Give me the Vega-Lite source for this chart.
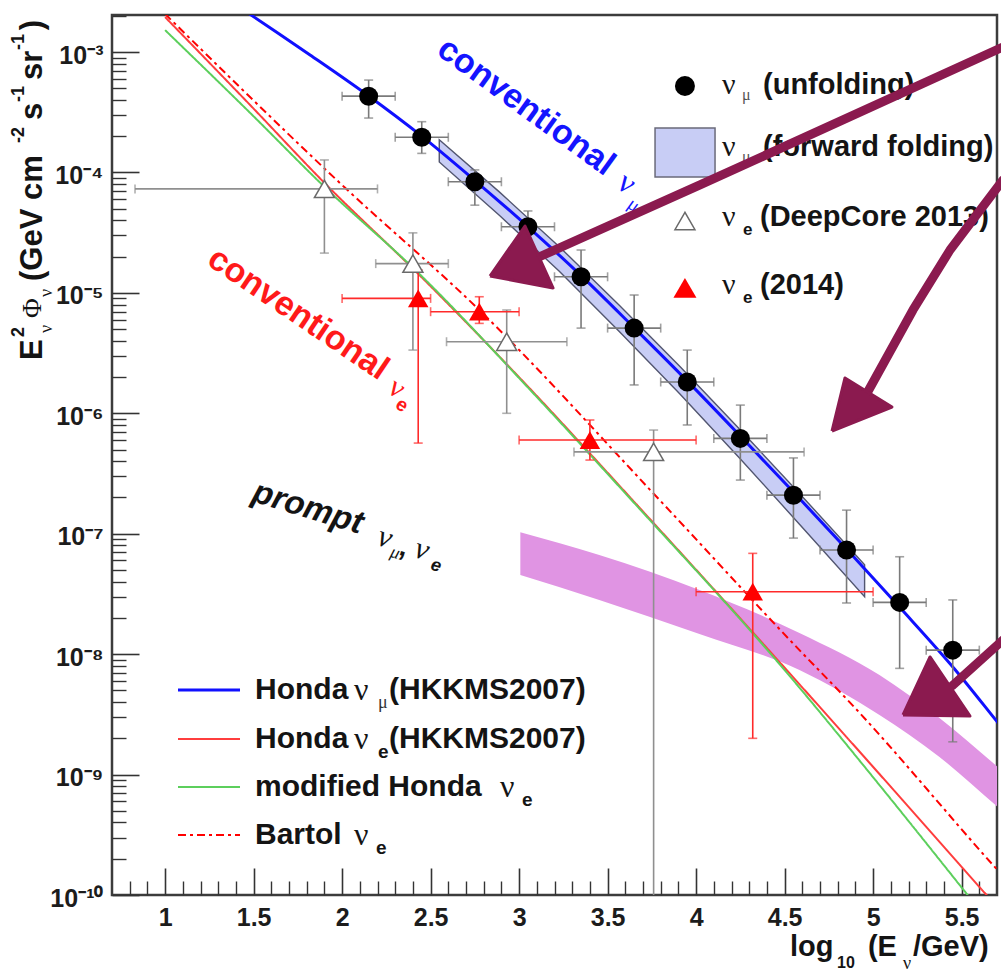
{
  "$schema": "https://vega.github.io/schema/vega-lite/v6.json",
  "width": 885,
  "height": 880,
  "autosize": "none",
  "padding": {"left": 112, "top": 15, "right": 4, "bottom": 77},
  "background": "#ffffff",
  "config": {
    "view": {"stroke": "#3c3c3c", "strokeWidth": 2.5},
    "font": "Liberation Sans"
  },
  "datasets": {
    "prompt": [
      {"x": 3.007, "hi": 1.03e-7, "lo": 4.54e-8},
      {"x": 3.453, "hi": 6.65e-8, "lo": 2.82e-8},
      {"x": 4.019, "hi": 3.41e-8, "lo": 1.47e-8},
      {"x": 4.584, "hi": 1.50e-8, "lo": 7.38e-9},
      {"x": 5.036, "hi": 6.71e-9, "lo": 3.13e-9},
      {"x": 5.375, "hi": 2.95e-9, "lo": 1.40e-9},
      {"x": 5.698, "hi": 1.18e-9, "lo": 5.48e-10},
      {"x": 5.75, "hi": 1.02e-9, "lo": 4.71e-10}
    ],
    "ffband": [
      {"x": 2.549, "hi": 1.87e-4, "lo": 1.22e-4},
      {"x": 2.888, "hi": 6.90e-5, "lo": 4.42e-5},
      {"x": 3.227, "hi": 2.42e-5, "lo": 1.51e-5},
      {"x": 3.566, "hi": 7.89e-6, "lo": 4.78e-6},
      {"x": 3.906, "hi": 2.47e-6, "lo": 1.46e-6},
      {"x": 4.245, "hi": 7.41e-7, "lo": 4.26e-7},
      {"x": 4.584, "hi": 2.16e-7, "lo": 1.20e-7},
      {"x": 4.952, "hi": 5.53e-8, "lo": 3.00e-8}
    ],
    "curves": [
      {"series": "mu", "part": "curve", "x": 1.40, "y": 2.48e-3},
      {"series": "mu", "part": "curve", "x": 1.486, "y": 2.03e-3},
      {"series": "mu", "part": "curve", "x": 1.819, "y": 9.45e-4},
      {"series": "mu", "part": "curve", "x": 2.142, "y": 4.40e-4},
      {"series": "mu", "part": "curve", "x": 2.441, "y": 2.05e-4},
      {"series": "mu", "part": "curve", "x": 2.747, "y": 8.65e-5},
      {"series": "mu", "part": "curve", "x": 3.052, "y": 3.52e-5},
      {"series": "mu", "part": "curve", "x": 3.346, "y": 1.41e-5},
      {"series": "mu", "part": "curve", "x": 3.646, "y": 5.20e-6},
      {"series": "mu", "part": "curve", "x": 3.951, "y": 1.85e-6},
      {"series": "mu", "part": "curve", "x": 4.250, "y": 6.47e-7},
      {"series": "mu", "part": "curve", "x": 4.550, "y": 2.22e-7},
      {"series": "mu", "part": "curve", "x": 4.850, "y": 7.46e-8},
      {"series": "mu", "part": "curve", "x": 5.149, "y": 2.46e-8},
      {"series": "mu", "part": "curve", "x": 5.460, "y": 7.54e-9},
      {"series": "mu", "part": "curve", "x": 5.697, "y": 2.79e-9},
      {"series": "mu", "part": "curve", "x": 5.75, "y": 2.23e-9},
      {"series": "e", "part": "curve", "x": 1.0, "y": 1.95e-3},
      {"series": "e", "part": "curve", "x": 1.475, "y": 3.70e-4},
      {"series": "e", "part": "curve", "x": 1.9, "y": 8.2e-5},
      {"series": "e", "part": "curve", "x": 2.436, "y": 1.41e-5},
      {"series": "e", "part": "curve", "x": 3.058, "y": 1.62e-6},
      {"series": "e", "part": "curve", "x": 3.640, "y": 1.91e-7},
      {"series": "e", "part": "curve", "x": 4.471, "y": 8.61e-9},
      {"series": "e", "part": "curve", "x": 5.036, "y": 1.01e-9},
      {"series": "e", "part": "curve", "x": 5.641, "y": 1.0e-10},
      {"series": "e", "part": "curve", "x": 5.771, "y": 6.1e-11},
      {"series": "emod", "part": "curve", "x": 1.0, "y": 1.52e-3},
      {"series": "emod", "part": "curve", "x": 1.475, "y": 3.18e-4},
      {"series": "emod", "part": "curve", "x": 1.9, "y": 7.6e-5},
      {"series": "emod", "part": "curve", "x": 2.436, "y": 1.44e-5},
      {"series": "emod", "part": "curve", "x": 3.058, "y": 1.59e-6},
      {"series": "emod", "part": "curve", "x": 3.640, "y": 1.87e-7},
      {"series": "emod", "part": "curve", "x": 4.471, "y": 8.28e-9},
      {"series": "emod", "part": "curve", "x": 5.036, "y": 8.18e-10},
      {"series": "emod", "part": "curve", "x": 5.534, "y": 1.0e-10},
      {"series": "emod", "part": "curve", "x": 5.658, "y": 5.9e-11},
      {"series": "bartol", "part": "curve", "x": 1.0, "y": 2.07e-3},
      {"series": "bartol", "part": "curve", "x": 2.012, "y": 7.57e-5},
      {"series": "bartol", "part": "curve", "x": 2.775, "y": 7.21e-6},
      {"series": "bartol", "part": "curve", "x": 3.793, "y": 1.91e-7},
      {"series": "bartol", "part": "curve", "x": 4.584, "y": 1.08e-8},
      {"series": "bartol", "part": "curve", "x": 4.867, "y": 4.0e-9},
      {"series": "bartol", "part": "curve", "x": 5.703, "y": 1.61e-10},
      {"series": "bartol", "part": "curve", "x": 5.75, "y": 1.35e-10},
      {"series": "mu", "part": "key", "x": 1.0729, "y": 5.04e-9},
      {"series": "mu", "part": "key", "x": 1.4232, "y": 5.04e-9},
      {"series": "e", "part": "key", "x": 1.0729, "y": 1.976e-9},
      {"series": "e", "part": "key", "x": 1.4232, "y": 1.976e-9},
      {"series": "emod", "part": "key", "x": 1.0729, "y": 7.89e-10},
      {"series": "emod", "part": "key", "x": 1.4232, "y": 7.89e-10},
      {"series": "bartol", "part": "key", "x": 1.0729, "y": 3.15e-10},
      {"series": "bartol", "part": "key", "x": 1.4232, "y": 3.15e-10}
    ],
    "pts": [
      {"set": "numu", "x": 2.15, "xlo": 2.0, "xhi": 2.3, "y": 4.3e-4, "ylo": 2.83e-4, "yhi": 5.85e-4},
      {"set": "numu", "x": 2.45, "xlo": 2.3, "xhi": 2.6, "y": 1.96e-4, "ylo": 1.44e-4, "yhi": 2.64e-4},
      {"set": "numu", "x": 2.75, "xlo": 2.6, "xhi": 2.9, "y": 8.37e-5, "ylo": 5.35e-5, "yhi": 1.05e-4},
      {"set": "numu", "x": 3.05, "xlo": 2.9, "xhi": 3.2, "y": 3.54e-5, "ylo": 2.49e-5, "yhi": 4.79e-5},
      {"set": "numu", "x": 3.35, "xlo": 3.2, "xhi": 3.5, "y": 1.36e-5, "ylo": 5.1e-6, "yhi": 2.27e-5},
      {"set": "numu", "x": 3.65, "xlo": 3.5, "xhi": 3.8, "y": 5.1e-6, "ylo": 1.72e-6, "yhi": 9.6e-6},
      {"set": "numu", "x": 3.95, "xlo": 3.8, "xhi": 4.1, "y": 1.82e-6, "ylo": 8.0e-7, "yhi": 3.35e-6},
      {"set": "numu", "x": 4.25, "xlo": 4.1, "xhi": 4.4, "y": 6.19e-7, "ylo": 2.79e-7, "yhi": 1.17e-6},
      {"set": "numu", "x": 4.55, "xlo": 4.4, "xhi": 4.7, "y": 2.09e-7, "ylo": 9.2e-8, "yhi": 4.26e-7},
      {"set": "numu", "x": 4.85, "xlo": 4.7, "xhi": 5.0, "y": 7.33e-8, "ylo": 2.66e-8, "yhi": 1.57e-7},
      {"set": "numu", "x": 5.15, "xlo": 5.0, "xhi": 5.3, "y": 2.69e-8, "ylo": 7.62e-9, "yhi": 6.44e-8},
      {"set": "numu", "x": 5.45, "xlo": 5.3, "xhi": 5.6, "y": 1.08e-8, "ylo": 1.87e-9, "yhi": 2.82e-8},
      {"set": "dc", "x": 1.9, "xlo": 0.83, "xhi": 2.2, "y": 7.3e-5, "ylo": 2.14e-5, "yhi": 1.27e-4},
      {"set": "dc", "x": 2.4, "xlo": 2.19, "xhi": 2.6, "y": 1.75e-5, "ylo": 3.35e-6, "yhi": 3.15e-5},
      {"set": "dc", "x": 2.93, "xlo": 2.59, "xhi": 3.27, "y": 3.93e-6, "ylo": 1.0e-6, "yhi": 7.21e-6},
      {"set": "dc", "x": 3.76, "xlo": 3.31, "xhi": 4.61, "y": 4.78e-7, "ylo": 1.0e-11, "yhi": 7.26e-7},
      {"set": "nue14", "x": 2.43, "xlo": 2.0, "xhi": 2.5, "y": 9.0e-6, "ylo": 5.66e-7, "yhi": 1.55e-5},
      {"set": "nue14", "x": 2.775, "xlo": 2.5, "xhi": 3.0, "y": 6.98e-6, "ylo": 5.58e-6, "yhi": 9.29e-6},
      {"set": "nue14", "x": 3.4, "xlo": 3.0, "xhi": 4.0, "y": 6.0e-7, "ylo": 4.09e-7, "yhi": 8.8e-7},
      {"set": "nue14", "x": 4.32, "xlo": 4.0, "xhi": 5.0, "y": 3.30e-8, "ylo": 2.0e-9, "yhi": 6.87e-8}
    ],
    "txt": [
      {"g": "leg1", "x": 4.378, "y": 5.32e-4, "text": "(unfolding)"},
      {"g": "leg1", "x": 4.378, "y": 1.63e-4, "text": "(forward folding)"},
      {"g": "leg1", "x": 4.361, "y": 4.27e-5, "text": "(DeepCore 2013)"},
      {"g": "leg1", "x": 4.361, "y": 1.16e-5, "text": "(2014)"},
      {"g": "leg1nu", "x": 4.146, "y": 5.32e-4, "text": "ν"},
      {"g": "leg1nu", "x": 4.146, "y": 1.63e-4, "text": "ν"},
      {"g": "leg1nu", "x": 4.146, "y": 4.27e-5, "text": "ν"},
      {"g": "leg1nu", "x": 4.146, "y": 1.16e-5, "text": "ν"},
      {"g": "leg1mu", "x": 4.259, "y": 4.40e-4, "text": "μ"},
      {"g": "leg1mu", "x": 4.259, "y": 1.34e-4, "text": "μ"},
      {"g": "leg1e", "x": 4.265, "y": 3.33e-5, "text": "e"},
      {"g": "leg1e", "x": 4.265, "y": 9.07e-6, "text": "e"},
      {"g": "leg2", "x": 1.5079, "y": 5.04e-9, "text": "Honda"},
      {"g": "leg2", "x": 2.265, "y": 5.04e-9, "text": "(HKKMS2007)"},
      {"g": "leg2", "x": 1.5079, "y": 1.976e-9, "text": "Honda"},
      {"g": "leg2", "x": 2.265, "y": 1.976e-9, "text": "(HKKMS2007)"},
      {"g": "leg2", "x": 1.5079, "y": 7.89e-10, "text": "modified Honda"},
      {"g": "leg2", "x": 1.5079, "y": 3.15e-10, "text": "Bartol"},
      {"g": "leg2nu", "x": 2.0672, "y": 5.04e-9, "text": "ν"},
      {"g": "leg2nu", "x": 2.0672, "y": 1.976e-9, "text": "ν"},
      {"g": "leg2nu", "x": 2.892, "y": 7.89e-10, "text": "ν"},
      {"g": "leg2nu", "x": 2.0672, "y": 3.15e-10, "text": "ν"},
      {"g": "leg2mu", "x": 2.2028, "y": 3.93e-9, "text": "μ"},
      {"g": "leg2e", "x": 2.2028, "y": 1.54e-9, "text": "e"},
      {"g": "leg2e", "x": 3.0164, "y": 6.15e-10, "text": "e"},
      {"g": "leg2e", "x": 2.1915, "y": 2.457e-10, "text": "e"},
      {"g": "cb", "x": 3.039, "y": 3.50e-4, "text": "conventional"},
      {"g": "cbnu", "x": 3.6096, "y": 8.18e-5, "text": "ν"},
      {"g": "cbmu", "x": 3.649, "y": 5.37e-5, "text": "μ"},
      {"g": "cr", "x": 1.7508, "y": 6.68e-6, "text": "conventional"},
      {"g": "crnu", "x": 2.3102, "y": 1.62e-6, "text": "ν"},
      {"g": "cre", "x": 2.3384, "y": 1.17e-6, "text": "e"},
      {"g": "pr", "x": 1.8073, "y": 1.64e-7, "text": "prompt"},
      {"g": "prnu", "x": 2.2424, "y": 9.22e-8, "text": "ν"},
      {"g": "prnu", "x": 2.4514, "y": 7.33e-8, "text": "ν"},
      {"g": "prc", "x": 2.3497, "y": 7.61e-8, "text": ","},
      {"g": "prmu", "x": 2.2989, "y": 6.92e-8, "text": "μ"},
      {"g": "pre", "x": 2.5305, "y": 5.40e-8, "text": "e"},
      {"g": "xt", "x": 4.5305, "y": 3.71e-11, "text": "log"},
      {"g": "xt", "x": 4.971, "y": 3.71e-11, "text": "(E"},
      {"g": "xt", "x": 5.2254, "y": 3.71e-11, "text": "/GeV)"},
      {"g": "xtsub", "x": 4.796, "y": 2.73e-11, "text": "10"},
      {"g": "xtnu", "x": 5.169, "y": 2.67e-11, "text": "ν"},
      {"g": "yt", "x": 0.2537, "y": 2.77e-6, "text": "E"},
      {"g": "yt", "x": 0.2537, "y": 1.256e-5, "text": "(GeV cm"},
      {"g": "yt", "x": 0.2537, "y": 2.73e-4, "text": "s"},
      {"g": "yt", "x": 0.2537, "y": 5.86e-4, "text": "sr"},
      {"g": "yt", "x": 0.2537, "y": 1.52e-3, "text": ")"},
      {"g": "ytsup", "x": 0.1746, "y": 4.30e-6, "text": "2"},
      {"g": "ytsup", "x": 0.1746, "y": 1.757e-4, "text": "-2"},
      {"g": "ytsup", "x": 0.1746, "y": 3.85e-4, "text": "-1"},
      {"g": "ytsup", "x": 0.1746, "y": 1.04e-3, "text": "-1"},
      {"g": "ytphi", "x": 0.2537, "y": 6.19e-6, "text": "Φ"},
      {"g": "ytnu", "x": 0.3328, "y": 4.65e-6, "text": "ν"},
      {"g": "ytnu", "x": 0.3328, "y": 9.24e-6, "text": "ν"}
    ],
    "arrows": [
      {"id": 1, "part": "shaft", "o": 0, "x": 3.1124, "y": 1.986e-5},
      {"id": 1, "part": "shaft", "o": 1, "x": 4.0220, "y": 7.87e-5},
      {"id": 1, "part": "shaft", "o": 2, "x": 5.7339, "y": 1.101e-3},
      {"id": 1, "part": "head", "o": 0, "x": 2.8356, "y": 1.381e-5},
      {"id": 1, "part": "head", "o": 1, "x": 3.0333, "y": 3.59e-5},
      {"id": 1, "part": "head", "o": 2, "x": 3.1915, "y": 1.098e-5},
      {"id": 1, "part": "head", "o": 3, "x": 2.8356, "y": 1.381e-5},
      {"id": 2, "part": "shaft", "o": 0, "x": 4.9599, "y": 1.419e-6},
      {"id": 2, "part": "shaft", "o": 1, "x": 5.2254, "y": 7.21e-6},
      {"id": 2, "part": "shaft", "o": 2, "x": 5.4345, "y": 2.27e-5},
      {"id": 2, "part": "shaft", "o": 3, "x": 5.7339, "y": 8.66e-5},
      {"id": 2, "part": "head", "o": 0, "x": 4.7678, "y": 7.13e-7},
      {"id": 2, "part": "head", "o": 1, "x": 4.8412, "y": 1.965e-6},
      {"id": 2, "part": "head", "o": 2, "x": 5.1068, "y": 1.128e-6},
      {"id": 2, "part": "head", "o": 3, "x": 4.7678, "y": 7.13e-7},
      {"id": 3, "part": "shaft", "o": 0, "x": 5.4458, "y": 5.44e-9},
      {"id": 3, "part": "shaft", "o": 1, "x": 5.7339, "y": 1.311e-8},
      {"id": 3, "part": "head", "o": 0, "x": 5.1689, "y": 3.125e-9},
      {"id": 3, "part": "head", "o": 1, "x": 5.3215, "y": 9.48e-9},
      {"id": 3, "part": "head", "o": 2, "x": 5.5475, "y": 3.066e-9},
      {"id": 3, "part": "head", "o": 3, "x": 5.1689, "y": 3.125e-9}
    ]
  },
  "layer": [
    {
      "data": {"name": "prompt"},
      "mark": {"type": "area", "color": "#e094e3", "interpolate": "monotone", "clip": true},
      "encoding": {
        "x": {
          "field": "x", "type": "quantitative",
          "scale": {"domain": [0.7, 5.7], "nice": false, "zero": false},
          "axis": {
            "orient": "bottom", "title": null, "labels": false, "domain": false, "grid": false,
            "tickSize": -14, "tickWidth": 1.4, "tickColor": "#333333",
            "values": [0.8, 0.9, 1.1, 1.2, 1.3, 1.4, 1.6, 1.7, 1.8, 1.9, 2.1, 2.2, 2.3, 2.4, 2.6, 2.7, 2.8, 2.9, 3.1, 3.2, 3.3, 3.4, 3.6, 3.7, 3.8, 3.9, 4.1, 4.2, 4.3, 4.4, 4.6, 4.7, 4.8, 4.9, 5.1, 5.2, 5.3, 5.4, 5.6]
          }
        },
        "y": {
          "field": "hi", "type": "quantitative",
          "scale": {"type": "log", "domain": [1e-10, 0.00203], "nice": false},
          "axis": {
            "orient": "left", "title": null, "labels": false, "domain": false, "grid": false,
            "tickSize": -14, "tickWidth": 1.4, "tickColor": "#333333",
            "values": [2e-10, 3e-10, 4e-10, 5e-10, 6e-10, 7e-10, 8e-10, 9e-10, 2e-9, 3e-9, 4e-9, 5e-9, 6e-9, 7e-9, 8e-9, 9e-9, 2e-8, 3e-8, 4e-8, 5e-8, 6e-8, 7e-8, 8e-8, 9e-8, 2e-7, 3e-7, 4e-7, 5e-7, 6e-7, 7e-7, 8e-7, 9e-7, 2e-6, 3e-6, 4e-6, 5e-6, 6e-6, 7e-6, 8e-6, 9e-6, 2e-5, 3e-5, 4e-5, 5e-5, 6e-5, 7e-5, 8e-5, 9e-5, 2e-4, 3e-4, 4e-4, 5e-4, 6e-4, 7e-4, 8e-4, 9e-4, 2e-3]
          }
        },
        "y2": {"field": "lo"}
      }
    },
    {
      "data": {"name": "curves"},
      "transform": [{"filter": "datum.series !== 'mu'"}],
      "mark": {"type": "line", "interpolate": "monotone", "strokeWidth": 2, "clip": true},
      "encoding": {
        "x": {
          "field": "x", "type": "quantitative",
          "scale": {"domain": [0.7, 5.7], "nice": false, "zero": false},
          "axis": {
            "orient": "bottom", "title": null, "domain": false, "grid": false,
            "values": [1, 1.5, 2, 2.5, 3, 3.5, 4, 4.5, 5, 5.5], "format": "~g",
            "tickSize": -27, "tickWidth": 1.6, "tickColor": "#333333",
            "labelFont": "Liberation Sans", "labelFontWeight": "bold", "labelFontSize": 25, "labelColor": "#1c1c1c",
            "labelPadding": 37, "labelFlush": false, "labelOverlap": false, "labelBound": false
          }
        },
        "y": {
          "field": "y", "type": "quantitative",
          "scale": {"type": "log", "domain": [1e-10, 0.00203], "nice": false},
          "axis": {
            "orient": "left", "title": null, "domain": false, "grid": false,
            "values": [1e-10, 1e-9, 1e-8, 1e-7, 1e-6, 1e-5, 1e-4, 1e-3],
            "labelExpr": "'10' + replace(replace(replace(replace(replace(replace(replace(replace(replace(replace(replace('' + round(log(datum.value) / LN10), '-', '⁻'), '1', '¹'), '0', '⁰'), '2', '²'), '3', '³'), '4', '⁴'), '5', '⁵'), '6', '⁶'), '7', '⁷'), '8', '⁸'), '9', '⁹')",
            "tickSize": -27, "tickWidth": 1.6, "tickColor": "#333333",
            "labelFont": "Liberation Sans", "labelFontWeight": "bold", "labelFontSize": 25, "labelColor": "#1c1c1c",
            "labelPadding": 36, "labelOffset": 3, "labelBaseline": "middle",
            "labelFlush": false, "labelOverlap": false, "labelBound": false
          }
        },
        "detail": {"field": "part"},
        "stroke": {
          "field": "series", "type": "nominal", "legend": null,
          "scale": {"domain": ["e", "emod", "bartol"], "range": ["#ff3d3d", "#5ccf5c", "#ff0000"]}
        },
        "strokeDash": {
          "field": "series", "type": "nominal", "legend": null,
          "scale": {"domain": ["e", "emod", "bartol"], "range": [[1, 0], [1, 0], [8, 4, 3, 4]]}
        },
        "strokeWidth": {
          "field": "series", "type": "nominal", "legend": null,
          "scale": {"domain": ["e", "emod", "bartol"], "range": [2, 2, 2.6]}
        }
      }
    },
    {
      "data": {"name": "ffband"},
      "mark": {"type": "area", "fill": "#c8cdf5", "stroke": "#525670", "strokeWidth": 1.4, "clip": true},
      "encoding": {
        "x": {"field": "x", "type": "quantitative", "axis": null},
        "y": {"field": "hi", "type": "quantitative", "axis": null},
        "y2": {"field": "lo"}
      }
    },
    {
      "data": {"name": "curves"},
      "transform": [{"filter": "datum.series === 'mu'"}],
      "mark": {"type": "line", "interpolate": "monotone", "stroke": "#1010ff", "strokeWidth": 3, "clip": true},
      "encoding": {
        "x": {"field": "x", "type": "quantitative", "axis": null},
        "y": {"field": "y", "type": "quantitative", "axis": null},
        "detail": {"field": "part"}
      }
    },
    {
      "data": {"name": "pts"},
      "mark": {"type": "rule", "strokeWidth": 1.6, "clip": true},
      "encoding": {
        "x": {"field": "x", "type": "quantitative", "axis": null},
        "y": {"field": "ylo", "type": "quantitative", "axis": null},
        "y2": {"field": "yhi"},
        "color": {"field": "set", "type": "nominal", "legend": null,
          "scale": {"domain": ["numu", "dc", "nue14"], "range": ["#7a7a7a", "#8f8f8f", "#ff2a2a"]}}
      }
    },
    {
      "data": {"name": "pts"},
      "mark": {"type": "rule", "strokeWidth": 1.6, "clip": true},
      "encoding": {
        "x": {"field": "xlo", "type": "quantitative", "axis": null},
        "x2": {"field": "xhi"},
        "y": {"field": "y", "type": "quantitative", "axis": null},
        "color": {"field": "set", "type": "nominal", "legend": null,
          "scale": {"domain": ["numu", "dc", "nue14"], "range": ["#7a7a7a", "#8f8f8f", "#ff2a2a"]}}
      }
    },
    {
      "data": {"name": "pts"},
      "transform": [{"fold": ["ylo", "yhi"], "as": ["k", "yc"]}],
      "mark": {"type": "tick", "orient": "horizontal", "size": 9, "thickness": 1.6, "clip": true},
      "encoding": {
        "x": {"field": "x", "type": "quantitative", "axis": null},
        "y": {"field": "yc", "type": "quantitative", "axis": null},
        "color": {"field": "set", "type": "nominal", "legend": null,
          "scale": {"domain": ["numu", "dc", "nue14"], "range": ["#7a7a7a", "#8f8f8f", "#ff2a2a"]}}
      }
    },
    {
      "data": {"name": "pts"},
      "transform": [{"fold": ["xlo", "xhi"], "as": ["k", "xc"]}],
      "mark": {"type": "tick", "orient": "vertical", "size": 9, "thickness": 1.6, "clip": true},
      "encoding": {
        "x": {"field": "xc", "type": "quantitative", "axis": null},
        "y": {"field": "y", "type": "quantitative", "axis": null},
        "color": {"field": "set", "type": "nominal", "legend": null,
          "scale": {"domain": ["numu", "dc", "nue14"], "range": ["#7a7a7a", "#8f8f8f", "#ff2a2a"]}}
      }
    },
    {
      "data": {"name": "pts"},
      "transform": [{"filter": "datum.set === 'numu'"}],
      "mark": {"type": "point", "shape": "circle", "filled": true, "fill": "#000000", "size": 361, "opacity": 1},
      "encoding": {
        "x": {"field": "x", "type": "quantitative", "axis": null},
        "y": {"field": "y", "type": "quantitative", "axis": null}
      }
    },
    {
      "data": {"name": "pts"},
      "transform": [{"filter": "datum.set === 'dc'"}],
      "mark": {"type": "point", "shape": "triangle-up", "filled": false, "fill": "#ffffff", "stroke": "#6a6a6a", "strokeWidth": 1.5, "size": 400, "opacity": 1},
      "encoding": {
        "x": {"field": "x", "type": "quantitative", "axis": null},
        "y": {"field": "y", "type": "quantitative", "axis": null}
      }
    },
    {
      "data": {"name": "pts"},
      "transform": [{"filter": "datum.set === 'nue14'"}],
      "mark": {"type": "point", "shape": "triangle-up", "filled": true, "fill": "#ff0000", "size": 420, "opacity": 1},
      "encoding": {
        "x": {"field": "x", "type": "quantitative", "axis": null},
        "y": {"field": "y", "type": "quantitative", "axis": null}
      }
    },
    {
      "data": {"values": [{"x": 3.768, "x2": 4.107, "y": 2.34e-4, "y2": 9.17e-5}]},
      "mark": {"type": "rect", "fill": "#c8cdf5", "stroke": "#6a6a7a", "strokeWidth": 1.5},
      "encoding": {
        "x": {"field": "x", "type": "quantitative", "axis": null},
        "x2": {"field": "x2"},
        "y": {"field": "y", "type": "quantitative", "axis": null},
        "y2": {"field": "y2"}
      }
    },
    {
      "data": {"values": [{"x": 3.937, "y": 5.22e-4}]},
      "mark": {"type": "point", "shape": "circle", "filled": true, "fill": "#000000", "size": 400, "opacity": 1},
      "encoding": {
        "x": {"field": "x", "type": "quantitative", "axis": null},
        "y": {"field": "y", "type": "quantitative", "axis": null}
      }
    },
    {
      "data": {"values": [{"x": 3.937, "y": 3.95e-5}]},
      "mark": {"type": "point", "shape": "triangle-up", "filled": false, "fill": "#ffffff", "stroke": "#6a6a6a", "strokeWidth": 1.5, "size": 400, "opacity": 1},
      "encoding": {
        "x": {"field": "x", "type": "quantitative", "axis": null},
        "y": {"field": "y", "type": "quantitative", "axis": null}
      }
    },
    {
      "data": {"values": [{"x": 3.937, "y": 1.10e-5}]},
      "mark": {"type": "point", "shape": "triangle-up", "filled": true, "fill": "#ff0000", "size": 529, "opacity": 1},
      "encoding": {
        "x": {"field": "x", "type": "quantitative", "axis": null},
        "y": {"field": "y", "type": "quantitative", "axis": null}
      }
    },
    {
      "data": {"name": "txt"},
      "transform": [{"filter": "datum.g === 'leg1'"}],
      "mark": {"type": "text", "font": "Liberation Sans", "fontWeight": "bold", "fontSize": 29, "align": "left", "baseline": "middle", "color": "#141414"},
      "encoding": {
        "x": {"field": "x", "type": "quantitative", "axis": null},
        "y": {"field": "y", "type": "quantitative", "axis": null},
        "text": {"field": "text"}
      }
    },
    {
      "data": {"name": "txt"},
      "transform": [{"filter": "datum.g === 'leg1nu'"}],
      "mark": {"type": "text", "font": "Liberation Serif", "fontSize": 30, "align": "left", "baseline": "middle", "color": "#141414"},
      "encoding": {
        "x": {"field": "x", "type": "quantitative", "axis": null},
        "y": {"field": "y", "type": "quantitative", "axis": null},
        "text": {"field": "text"}
      }
    },
    {
      "data": {"name": "txt"},
      "transform": [{"filter": "datum.g === 'leg1mu'"}],
      "mark": {"type": "text", "font": "Liberation Serif", "fontSize": 16, "align": "left", "baseline": "middle", "color": "#555555"},
      "encoding": {
        "x": {"field": "x", "type": "quantitative", "axis": null},
        "y": {"field": "y", "type": "quantitative", "axis": null},
        "text": {"field": "text"}
      }
    },
    {
      "data": {"name": "txt"},
      "transform": [{"filter": "datum.g === 'leg1e'"}],
      "mark": {"type": "text", "font": "Liberation Sans", "fontWeight": "bold", "fontSize": 17, "align": "left", "baseline": "middle", "color": "#141414"},
      "encoding": {
        "x": {"field": "x", "type": "quantitative", "axis": null},
        "y": {"field": "y", "type": "quantitative", "axis": null},
        "text": {"field": "text"}
      }
    },
    {
      "data": {"name": "txt"},
      "transform": [{"filter": "datum.g === 'leg2'"}],
      "mark": {"type": "text", "font": "Liberation Sans", "fontWeight": "bold", "fontSize": 30, "align": "left", "baseline": "middle", "color": "#141414"},
      "encoding": {
        "x": {"field": "x", "type": "quantitative", "axis": null},
        "y": {"field": "y", "type": "quantitative", "axis": null},
        "text": {"field": "text"}
      }
    },
    {
      "data": {"name": "txt"},
      "transform": [{"filter": "datum.g === 'leg2nu'"}],
      "mark": {"type": "text", "font": "Liberation Serif", "fontSize": 32, "align": "left", "baseline": "middle", "color": "#141414"},
      "encoding": {
        "x": {"field": "x", "type": "quantitative", "axis": null},
        "y": {"field": "y", "type": "quantitative", "axis": null},
        "text": {"field": "text"}
      }
    },
    {
      "data": {"name": "txt"},
      "transform": [{"filter": "datum.g === 'leg2mu'"}],
      "mark": {"type": "text", "font": "Liberation Serif", "fontSize": 18, "align": "left", "baseline": "middle", "color": "#333333"},
      "encoding": {
        "x": {"field": "x", "type": "quantitative", "axis": null},
        "y": {"field": "y", "type": "quantitative", "axis": null},
        "text": {"field": "text"}
      }
    },
    {
      "data": {"name": "txt"},
      "transform": [{"filter": "datum.g === 'leg2e'"}],
      "mark": {"type": "text", "font": "Liberation Sans", "fontWeight": "bold", "fontSize": 19, "align": "left", "baseline": "middle", "color": "#141414"},
      "encoding": {
        "x": {"field": "x", "type": "quantitative", "axis": null},
        "y": {"field": "y", "type": "quantitative", "axis": null},
        "text": {"field": "text"}
      }
    },
    {
      "data": {"name": "txt"},
      "transform": [{"filter": "datum.g === 'cb'"}],
      "mark": {"type": "text", "font": "Liberation Sans", "fontWeight": "bold", "fontSize": 34, "align": "center", "baseline": "middle", "angle": 36, "color": "#1414ff"},
      "encoding": {
        "x": {"field": "x", "type": "quantitative", "axis": null},
        "y": {"field": "y", "type": "quantitative", "axis": null},
        "text": {"field": "text"}
      }
    },
    {
      "data": {"name": "txt"},
      "transform": [{"filter": "datum.g === 'cbnu'"}],
      "mark": {"type": "text", "font": "Liberation Serif", "fontSize": 32, "align": "center", "baseline": "middle", "angle": 36, "color": "#1414ff"},
      "encoding": {
        "x": {"field": "x", "type": "quantitative", "axis": null},
        "y": {"field": "y", "type": "quantitative", "axis": null},
        "text": {"field": "text"}
      }
    },
    {
      "data": {"name": "txt"},
      "transform": [{"filter": "datum.g === 'cbmu'"}],
      "mark": {"type": "text", "font": "Liberation Serif", "fontSize": 19, "align": "center", "baseline": "middle", "angle": 36, "color": "#1414ff"},
      "encoding": {
        "x": {"field": "x", "type": "quantitative", "axis": null},
        "y": {"field": "y", "type": "quantitative", "axis": null},
        "text": {"field": "text"}
      }
    },
    {
      "data": {"name": "txt"},
      "transform": [{"filter": "datum.g === 'cr'"}],
      "mark": {"type": "text", "font": "Liberation Sans", "fontWeight": "bold", "fontSize": 34, "align": "center", "baseline": "middle", "angle": 34, "color": "#ff1a1a"},
      "encoding": {
        "x": {"field": "x", "type": "quantitative", "axis": null},
        "y": {"field": "y", "type": "quantitative", "axis": null},
        "text": {"field": "text"}
      }
    },
    {
      "data": {"name": "txt"},
      "transform": [{"filter": "datum.g === 'crnu'"}],
      "mark": {"type": "text", "font": "Liberation Serif", "fontSize": 30, "align": "center", "baseline": "middle", "angle": 34, "color": "#ff1a1a"},
      "encoding": {
        "x": {"field": "x", "type": "quantitative", "axis": null},
        "y": {"field": "y", "type": "quantitative", "axis": null},
        "text": {"field": "text"}
      }
    },
    {
      "data": {"name": "txt"},
      "transform": [{"filter": "datum.g === 'cre'"}],
      "mark": {"type": "text", "font": "Liberation Sans", "fontWeight": "bold", "fontSize": 19, "align": "center", "baseline": "middle", "angle": 34, "color": "#ff1a1a"},
      "encoding": {
        "x": {"field": "x", "type": "quantitative", "axis": null},
        "y": {"field": "y", "type": "quantitative", "axis": null},
        "text": {"field": "text"}
      }
    },
    {
      "data": {"name": "txt"},
      "transform": [{"filter": "datum.g === 'pr'"}],
      "mark": {"type": "text", "font": "Liberation Sans", "fontWeight": "bold", "fontStyle": "italic", "fontSize": 33, "align": "center", "baseline": "middle", "angle": 17, "color": "#141414"},
      "encoding": {
        "x": {"field": "x", "type": "quantitative", "axis": null},
        "y": {"field": "y", "type": "quantitative", "axis": null},
        "text": {"field": "text"}
      }
    },
    {
      "data": {"name": "txt"},
      "transform": [{"filter": "datum.g === 'prnu'"}],
      "mark": {"type": "text", "font": "Liberation Serif", "fontStyle": "italic", "fontSize": 31, "align": "center", "baseline": "middle", "angle": 17, "color": "#141414"},
      "encoding": {
        "x": {"field": "x", "type": "quantitative", "axis": null},
        "y": {"field": "y", "type": "quantitative", "axis": null},
        "text": {"field": "text"}
      }
    },
    {
      "data": {"name": "txt"},
      "transform": [{"filter": "datum.g === 'prc'"}],
      "mark": {"type": "text", "font": "Liberation Sans", "fontWeight": "bold", "fontSize": 28, "align": "center", "baseline": "middle", "angle": 17, "color": "#141414"},
      "encoding": {
        "x": {"field": "x", "type": "quantitative", "axis": null},
        "y": {"field": "y", "type": "quantitative", "axis": null},
        "text": {"field": "text"}
      }
    },
    {
      "data": {"name": "txt"},
      "transform": [{"filter": "datum.g === 'prmu'"}],
      "mark": {"type": "text", "font": "Liberation Serif", "fontStyle": "italic", "fontSize": 18, "align": "center", "baseline": "middle", "angle": 17, "color": "#141414"},
      "encoding": {
        "x": {"field": "x", "type": "quantitative", "axis": null},
        "y": {"field": "y", "type": "quantitative", "axis": null},
        "text": {"field": "text"}
      }
    },
    {
      "data": {"name": "txt"},
      "transform": [{"filter": "datum.g === 'pre'"}],
      "mark": {"type": "text", "font": "Liberation Sans", "fontWeight": "bold", "fontStyle": "italic", "fontSize": 18, "align": "center", "baseline": "middle", "angle": 17, "color": "#141414"},
      "encoding": {
        "x": {"field": "x", "type": "quantitative", "axis": null},
        "y": {"field": "y", "type": "quantitative", "axis": null},
        "text": {"field": "text"}
      }
    },
    {
      "data": {"name": "txt"},
      "transform": [{"filter": "datum.g === 'xt'"}],
      "mark": {"type": "text", "font": "Liberation Sans", "fontWeight": "bold", "fontSize": 29, "align": "left", "baseline": "middle", "color": "#141414"},
      "encoding": {
        "x": {"field": "x", "type": "quantitative", "axis": null},
        "y": {"field": "y", "type": "quantitative", "axis": null},
        "text": {"field": "text"}
      }
    },
    {
      "data": {"name": "txt"},
      "transform": [{"filter": "datum.g === 'xtsub'"}],
      "mark": {"type": "text", "font": "Liberation Sans", "fontWeight": "bold", "fontSize": 16, "align": "left", "baseline": "middle", "color": "#141414"},
      "encoding": {
        "x": {"field": "x", "type": "quantitative", "axis": null},
        "y": {"field": "y", "type": "quantitative", "axis": null},
        "text": {"field": "text"}
      }
    },
    {
      "data": {"name": "txt"},
      "transform": [{"filter": "datum.g === 'xtnu'"}],
      "mark": {"type": "text", "font": "Liberation Serif", "fontSize": 18, "align": "left", "baseline": "middle", "color": "#141414"},
      "encoding": {
        "x": {"field": "x", "type": "quantitative", "axis": null},
        "y": {"field": "y", "type": "quantitative", "axis": null},
        "text": {"field": "text"}
      }
    },
    {
      "data": {"name": "txt"},
      "transform": [{"filter": "datum.g === 'yt'"}],
      "mark": {"type": "text", "font": "Liberation Sans", "fontWeight": "bold", "fontSize": 31, "align": "left", "baseline": "middle", "angle": 270, "color": "#141414"},
      "encoding": {
        "x": {"field": "x", "type": "quantitative", "axis": null},
        "y": {"field": "y", "type": "quantitative", "axis": null},
        "text": {"field": "text"}
      }
    },
    {
      "data": {"name": "txt"},
      "transform": [{"filter": "datum.g === 'ytsup'"}],
      "mark": {"type": "text", "font": "Liberation Sans", "fontWeight": "bold", "fontSize": 18, "align": "left", "baseline": "middle", "angle": 270, "color": "#141414"},
      "encoding": {
        "x": {"field": "x", "type": "quantitative", "axis": null},
        "y": {"field": "y", "type": "quantitative", "axis": null},
        "text": {"field": "text"}
      }
    },
    {
      "data": {"name": "txt"},
      "transform": [{"filter": "datum.g === 'ytphi'"}],
      "mark": {"type": "text", "font": "Liberation Serif", "fontSize": 27, "align": "left", "baseline": "middle", "angle": 270, "color": "#141414"},
      "encoding": {
        "x": {"field": "x", "type": "quantitative", "axis": null},
        "y": {"field": "y", "type": "quantitative", "axis": null},
        "text": {"field": "text"}
      }
    },
    {
      "data": {"name": "txt"},
      "transform": [{"filter": "datum.g === 'ytnu'"}],
      "mark": {"type": "text", "font": "Liberation Serif", "fontSize": 18, "align": "left", "baseline": "middle", "angle": 270, "color": "#141414"},
      "encoding": {
        "x": {"field": "x", "type": "quantitative", "axis": null},
        "y": {"field": "y", "type": "quantitative", "axis": null},
        "text": {"field": "text"}
      }
    },
    {
      "data": {"name": "arrows"},
      "transform": [{"filter": "datum.part === 'shaft'"}],
      "mark": {"type": "line", "stroke": "#8b1a4f", "strokeWidth": 9, "strokeCap": "round", "strokeJoin": "round"},
      "encoding": {
        "x": {"field": "x", "type": "quantitative", "axis": null},
        "y": {"field": "y", "type": "quantitative", "axis": null},
        "detail": {"field": "id"},
        "order": {"field": "o"}
      }
    },
    {
      "data": {"name": "arrows"},
      "transform": [{"filter": "datum.part === 'head'"}],
      "mark": {"type": "line", "stroke": "#8b1a4f", "fill": "#8b1a4f", "strokeWidth": 3, "strokeJoin": "round"},
      "encoding": {
        "x": {"field": "x", "type": "quantitative", "axis": null},
        "y": {"field": "y", "type": "quantitative", "axis": null},
        "detail": {"field": "id"},
        "order": {"field": "o"}
      }
    }
  ],
  "resolve": {"axis": {"x": "independent", "y": "independent"}}
}
